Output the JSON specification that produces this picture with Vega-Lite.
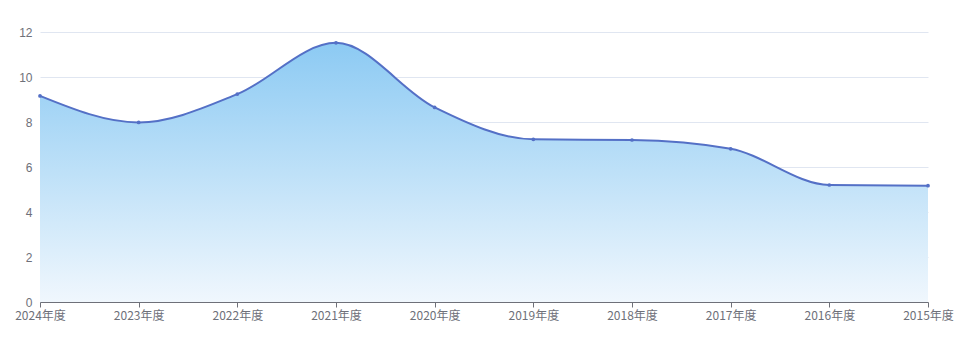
{
  "$schema": "https://vega.github.io/schema/vega-lite/v6.json",
  "autosize": "none",
  "width": 888,
  "height": 270,
  "padding": {"left": 40, "top": 32, "right": 42, "bottom": 51},
  "background": "#ffffff",
  "config": {"view": {"stroke": null}},
  "data": {"values": [
    {"year": "2024年度", "value": 9.16},
    {"year": "2023年度", "value": 7.98},
    {"year": "2022年度", "value": 9.24},
    {"year": "2021年度", "value": 11.52},
    {"year": "2020年度", "value": 8.65},
    {"year": "2019年度", "value": 7.23},
    {"year": "2018年度", "value": 7.2},
    {"year": "2017年度", "value": 6.81},
    {"year": "2016年度", "value": 5.2},
    {"year": "2015年度", "value": 5.17}
  ]},
  "encoding": {
    "x": {
      "field": "year", "type": "ordinal", "sort": null,
      "scale": {"type": "point", "padding": 0},
      "axis": {"title": null, "labelAngle": 0, "labelColor": "#6e7079", "labelFontSize": 12, "labelFont": "Noto Sans CJK SC",
        "domainColor": "#6e7079", "tickColor": "#6e7079", "tickSize": 5, "labelPadding": 3, "grid": false}
    },
    "y": {
      "field": "value", "type": "quantitative",
      "scale": {"domain": [0, 12], "nice": false},
      "axis": {"title": null, "values": [0, 2, 4, 6, 8, 10, 12], "labelColor": "#6e7079", "labelFontSize": 12,
        "domain": false, "ticks": false, "labelPadding": 8, "gridColor": "#e0e6f1"}
    }
  },
  "layer": [
    {
      "mark": {"type": "area", "interpolate": "monotone",
        "color": {"gradient": "linear", "x1": 0, "y1": 0, "x2": 0, "y2": 1,
          "stops": [{"offset": 0, "color": "#8ccaf3"}, {"offset": 1, "color": "#f0f7fd"}]}}
    },
    {
      "mark": {"type": "line", "interpolate": "monotone", "color": "#5470c6", "strokeWidth": 2}
    },
    {
      "mark": {"type": "point", "filled": true, "color": "#5470c6", "size": 14, "opacity": 1}
    }
  ]
}
